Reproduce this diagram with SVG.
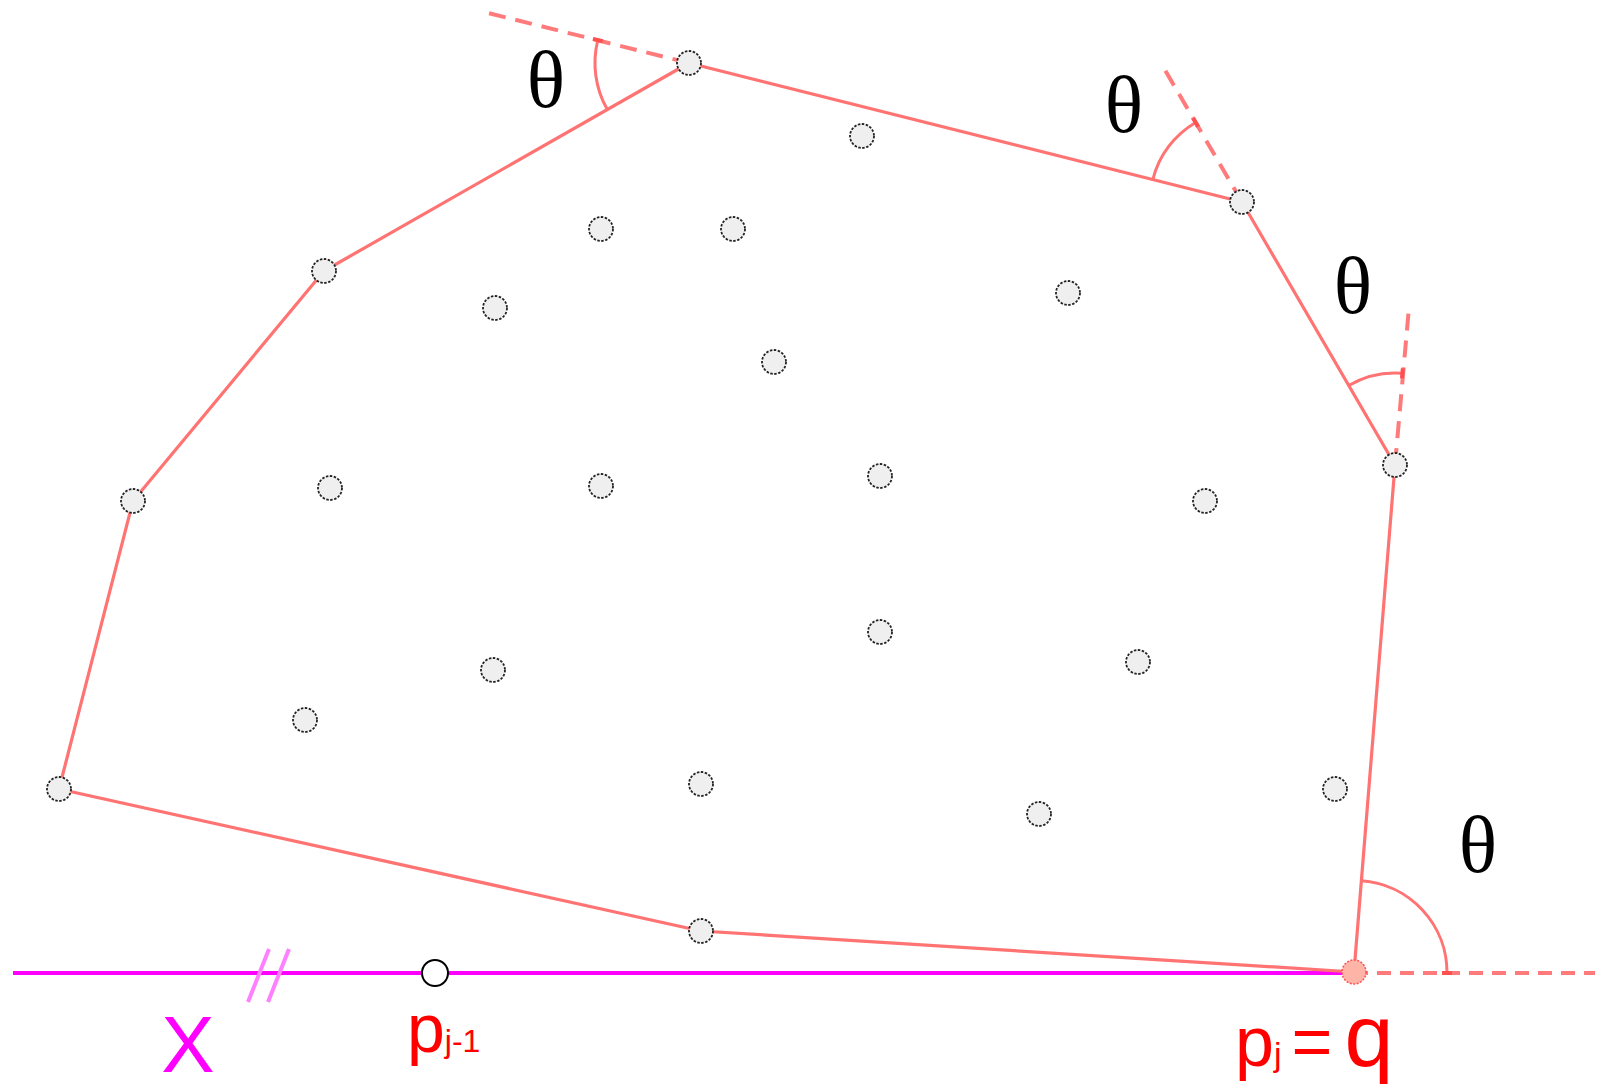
<svg xmlns="http://www.w3.org/2000/svg" width="1603" height="1086" viewBox="0 0 1603 1086">
<style>
.edge{stroke:#ff7373;stroke-width:3.2;fill:none;stroke-linecap:round}
.dash{stroke:#ff7b7b;stroke-width:4;fill:none;stroke-dasharray:17 10}
.hdash{stroke:#ff7b7b;stroke-width:4;fill:none;stroke-dasharray:14 9}
.arc{stroke:#ff7373;stroke-width:3;fill:none}
.tick{stroke:#ff5050;stroke-width:4}
.pt{fill:#efefef;stroke:#222;stroke-width:1.8;stroke-dasharray:2.5 1.5}
.th{font-family:"Liberation Serif","DejaVu Serif",serif;font-size:80px;fill:#000;text-anchor:middle}
.lbl{font-family:"Liberation Sans","DejaVu Sans",sans-serif;fill:#ff0000}
</style>
<rect width="1603" height="1086" fill="#fff"/>
<g id="baseline">
<line x1="13" y1="973" x2="1354" y2="973" stroke="#ff00ff" stroke-width="4"/>
<line x1="1354" y1="973" x2="1595" y2="973" class="hdash"/>
<line x1="269" y1="949" x2="248" y2="1002" stroke="#ff80ff" stroke-width="4"/>
<line x1="289" y1="949" x2="268" y2="1002" stroke="#ff80ff" stroke-width="4"/>
</g>
<g id="connectors">
<line class="edge" x1="1354" y1="972" x2="1395" y2="465"/>
<line class="edge" x1="1395" y1="465" x2="1242" y2="202"/>
<line class="edge" x1="1242" y1="202" x2="689" y2="63"/>
<line class="edge" x1="689" y1="63" x2="324" y2="271"/>
<line class="edge" x1="324" y1="271" x2="133" y2="501"/>
<line class="edge" x1="133" y1="501" x2="59" y2="789"/>
<line class="edge" x1="59" y1="789" x2="701" y2="931"/>
<line class="edge" x1="701" y1="931" x2="1354" y2="972"/>
<line class="dash" x1="689" y1="63" x2="484" y2="12"/>
<line class="dash" x1="1242" y1="202" x2="1165" y2="70"/>
<line class="dash" x1="1395" y1="465" x2="1409" y2="307"/>
</g>
<g id="angles">
<path class="arc" d="M597.8,40.1 A94,94 0 0 0 607.3,109.5"/>
<line class="tick" x1="592.9" y1="38.9" x2="602.7" y2="41.3"/>
<path class="arc" d="M1195.7,122.5 A92,92 0 0 0 1152.8,179.6"/>
<line class="tick" x1="1193.2" y1="118.2" x2="1198.2" y2="126.8"/>
<path class="arc" d="M1402.4,373.3 A92,92 0 0 0 1348.7,385.5"/>
<line class="tick" x1="1402.8" y1="368.3" x2="1402" y2="378.3"/>
<path class="arc" d="M1447,973 A92,92 0 0 0 1361.4,880.8"/>
<line class="tick" x1="1442" y1="973" x2="1452" y2="973"/>
</g>
<g id="labels">
<text class="th" x="546" y="107">θ</text>
<text class="th" x="1124" y="132">θ</text>
<text class="th" x="1353" y="313">θ</text>
<text class="th" x="1478" y="872">θ</text>
<text x="188" y="1072" font-family="'Liberation Sans','DejaVu Sans',sans-serif" font-size="80" fill="#ff00ff" text-anchor="middle">X</text>
<text class="lbl" x="407" y="1052" font-size="68">p<tspan font-size="32">j-1</tspan></text>
<text class="lbl" x="1235" y="1066" font-size="70">p<tspan font-size="34">j</tspan><tspan dx="10">=</tspan><tspan dx="12" font-size="88">q</tspan></text>
</g>
<g id="points">
<g id="n1"><circle class="pt" cx="689" cy="63" r="12"/></g>
<g id="n2"><circle class="pt" cx="1242" cy="202" r="12"/></g>
<g id="n3"><circle class="pt" cx="1395" cy="465" r="12"/></g>
<g id="n4"><circle class="pt" cx="324" cy="271" r="12"/></g>
<g id="n5"><circle class="pt" cx="133" cy="501" r="12"/></g>
<g id="n6"><circle class="pt" cx="59" cy="789" r="12"/></g>
<g id="n7"><circle class="pt" cx="701" cy="931" r="12"/></g>
<g id="q"><circle cx="1354" cy="972" r="12" fill="#ffb4a8" stroke="#ff5050" stroke-width="1.5" stroke-dasharray="2 1.5"/></g>
<g id="pj1"><circle cx="435" cy="973" r="13" fill="#fff" stroke="#000" stroke-width="2"/></g>
<g id="i1"><circle class="pt" cx="862" cy="136" r="12"/></g>
<g id="i2"><circle class="pt" cx="601" cy="229" r="12"/></g>
<g id="i3"><circle class="pt" cx="733" cy="229" r="12"/></g>
<g id="i4"><circle class="pt" cx="495" cy="308" r="12"/></g>
<g id="i5"><circle class="pt" cx="1068" cy="293" r="12"/></g>
<g id="i6"><circle class="pt" cx="774" cy="362" r="12"/></g>
<g id="i7"><circle class="pt" cx="330" cy="488" r="12"/></g>
<g id="i8"><circle class="pt" cx="601" cy="486" r="12"/></g>
<g id="i9"><circle class="pt" cx="880" cy="476" r="12"/></g>
<g id="i10"><circle class="pt" cx="1205" cy="501" r="12"/></g>
<g id="i11"><circle class="pt" cx="880" cy="632" r="12"/></g>
<g id="i12"><circle class="pt" cx="493" cy="670" r="12"/></g>
<g id="i13"><circle class="pt" cx="1138" cy="662" r="12"/></g>
<g id="i14"><circle class="pt" cx="305" cy="720" r="12"/></g>
<g id="i15"><circle class="pt" cx="701" cy="784" r="12"/></g>
<g id="i16"><circle class="pt" cx="1039" cy="814" r="12"/></g>
<g id="i17"><circle class="pt" cx="1335" cy="789" r="12"/></g>
</g>
</svg>
